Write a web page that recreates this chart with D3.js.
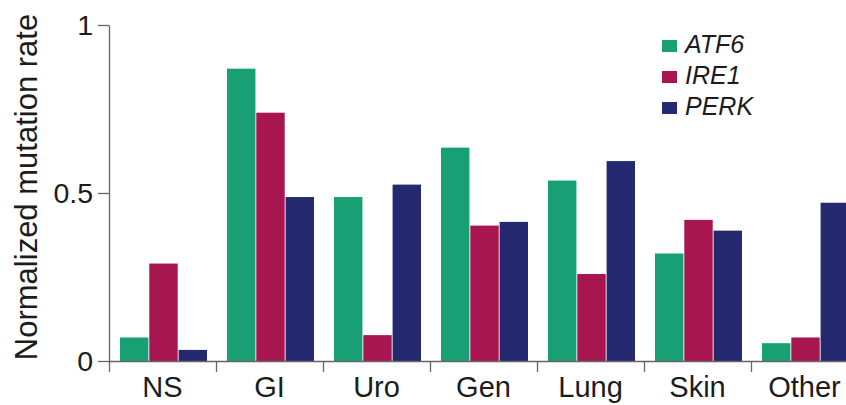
<!DOCTYPE html>
<html>
<head>
<meta charset="utf-8">
<script src="https://cdn.jsdelivr.net/npm/d3@7"></script>
<style>
  body { margin: 0; background: #fff; }
  text { font-family: "Liberation Sans", Arial, sans-serif; fill: #1c1c1c; }
</style>
</head>
<body>
<svg id="chart" width="846" height="405"></svg>
<script>
// data
var categories = ["NS", "GI", "Uro", "Gen", "Lung", "Skin", "Other"];
var seriesNames = ["ATF6", "IRE1", "PERK"];
var atf6 = [0.07, 0.87, 0.488, 0.635, 0.537, 0.32, 0.053];
var ire1 = [0.29, 0.739, 0.077, 0.403, 0.259, 0.42, 0.07];
var perk = [0.033, 0.488, 0.525, 0.414, 0.595, 0.388, 0.471];
var yTicks = [0, 0.5, 1];
var yTickLabels = ["0", "0.5", "1"];
var colors = ["#18a074", "#a8164f", "#25296f"];

var values = [atf6, ire1, perk];
var rows = categories.map(function(c, i) {
	return { cat: c, vals: seriesNames.map(function(s, j) { return { s: s, v: values[j][i] }; }) };
});

var svg = d3.select("#chart");
var plotLeft = 109, plotBase = 361, plotTop = 25, band = 107;

var x0 = d3.scaleBand().domain(categories).range([plotLeft, plotLeft + band * categories.length]);
var x1 = d3.scaleBand().domain(seriesNames).range([11, 98]).paddingInner(0.03);
var y = d3.scaleLinear().domain([0, 1]).range([plotBase, plotTop]);
var color = d3.scaleOrdinal().domain(seriesNames).range(colors);

// bars
var groups = svg.append("g")
	.selectAll("g")
	.data(rows)
	.enter()
	.append("g")
	.attr("transform", function(d) { return "translate(" + x0(d.cat) + ",0)"; });

groups.selectAll("rect")
	.data(function(d) { return d.vals; })
	.enter()
	.append("rect")
	.attr("x", function(d) { return x1(d.s); })
	.attr("width", x1.bandwidth())
	.attr("y", function(d) { return y(d.v); })
	.attr("height", function(d) { return plotBase - y(d.v); })
	.attr("fill", function(d) { return color(d.s); });

// x axis: boundary ticks
var xb = d3.scaleLinear().domain([0, categories.length]).range(x0.range());
svg.append("g")
	.attr("transform", "translate(0," + plotBase + ")")
	.call(d3.axisBottom(xb).tickValues(d3.range(categories.length + 1)).tickFormat("").tickSize(11).tickSizeOuter(0));

// x labels
var xLab = svg.append("g")
	.attr("transform", "translate(0," + plotBase + ")")
	.call(d3.axisBottom(x0).tickSize(0).tickPadding(15));
xLab.select(".domain").remove();
xLab.selectAll("text").attr("font-size", 29).attr("fill", "#1c1c1c");

// y axis
var yAxis = svg.append("g")
	.attr("transform", "translate(" + plotLeft + ",0)")
	.call(d3.axisLeft(y).tickValues(yTicks).tickFormat(function(d, i) { return yTickLabels[i]; }).tickSize(11).tickPadding(5).tickSizeOuter(0));
yAxis.selectAll("text").attr("font-size", 28.5).attr("fill", "#1c1c1c");

svg.selectAll(".domain, .tick line").attr("stroke", "#666").attr("stroke-width", 1.3);

// y title
svg.append("text")
	.attr("transform", "translate(37,187) rotate(-90)")
	.attr("text-anchor", "middle")
	.attr("font-size", 31)
	.text("Normalized mutation rate");

// legend
var legend = svg.append("g")
	.selectAll("g")
	.data(seriesNames)
	.enter()
	.append("g")
	.attr("transform", function(d, i) { return "translate(662," + (52.5 + i * 31) + ")"; });

legend.append("rect")
	.attr("x", 0)
	.attr("y", -12.5)
	.attr("width", 15)
	.attr("height", 12)
	.attr("fill", function(d) { return color(d); });

legend.append("text")
	.attr("x", 23)
	.attr("y", 0)
	.attr("font-size", 25)
	.attr("font-style", "italic")
	.text(function(d) { return d; });
</script>
</body>
</html>
